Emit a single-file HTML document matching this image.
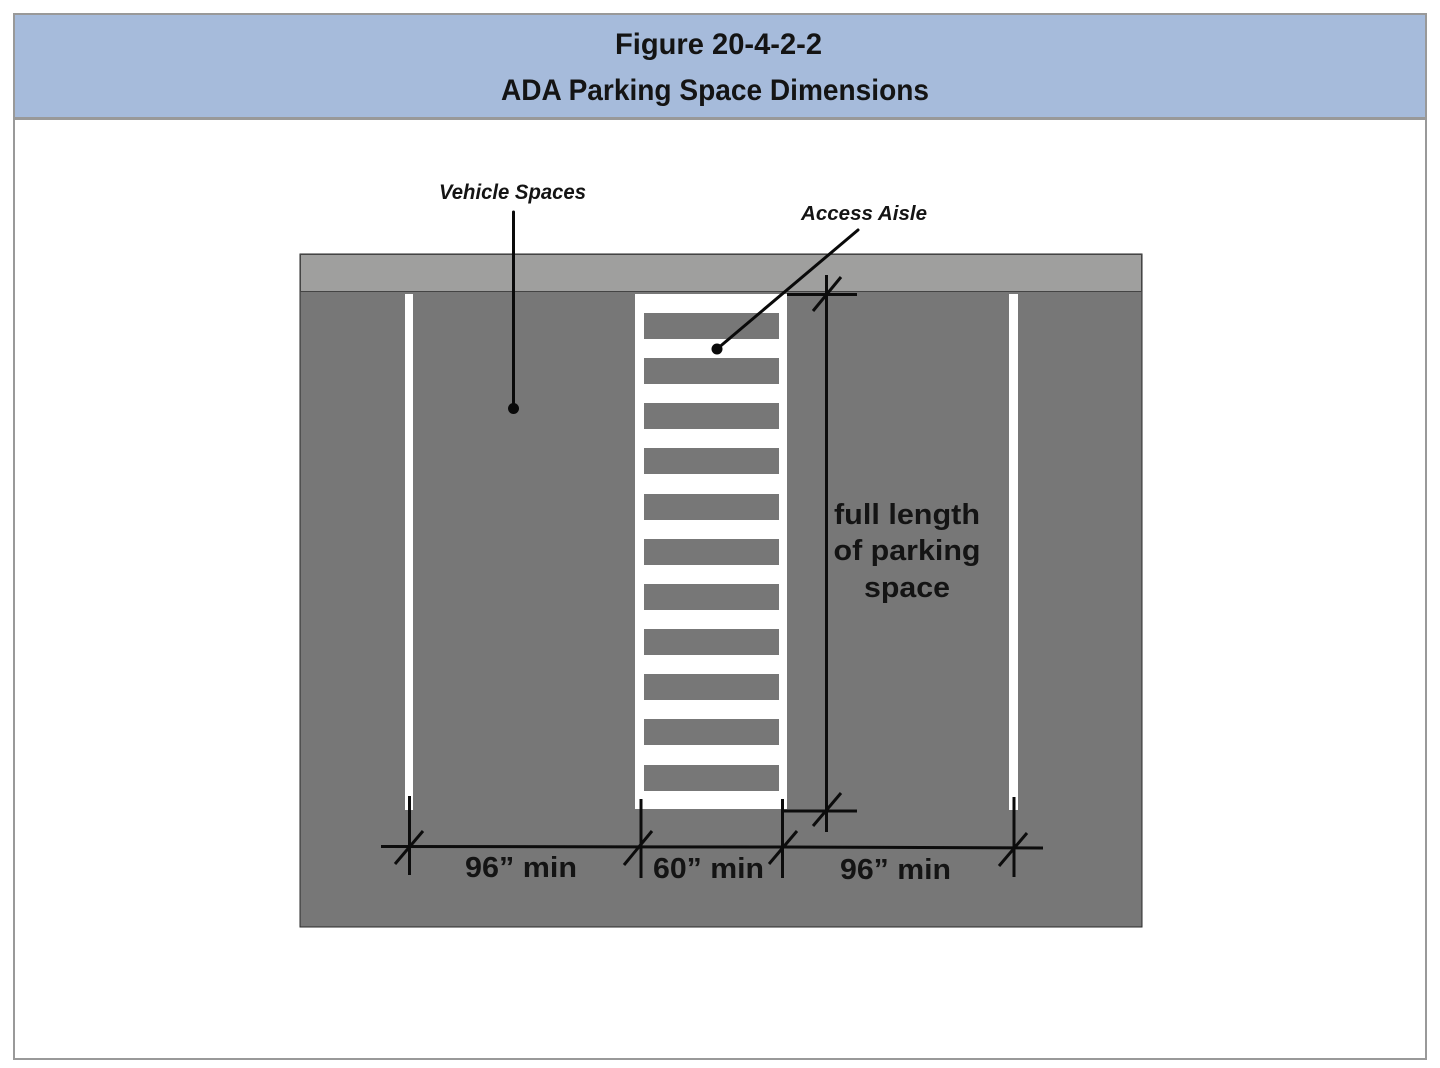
<!DOCTYPE html>
<html lang="en"><head><meta charset="utf-8"><title>Figure 20-4-2-2</title>
<style>html,body{margin:0;padding:0;background:#fff}svg{display:block}text{font-family:"Liberation Sans",sans-serif;font-weight:bold;fill:#141414}</style></head>
<body>
<svg width="1440" height="1068" viewBox="0 0 1440 1068" xmlns="http://www.w3.org/2000/svg">
<rect width="1440" height="1068" fill="#fff"/>
<!-- frame -->
<rect x="14" y="14" width="1412" height="1045" fill="#fff" stroke="#999" stroke-width="2"/>
<rect x="15" y="15" width="1410" height="102" fill="#a6bbdb"/>
<rect x="14" y="117" width="1412" height="3" fill="#999"/>
<text x="615" y="54" font-size="29.5" textLength="207" lengthAdjust="spacingAndGlyphs" fill="#0c0c0c">Figure 20-4-2-2</text>
<text x="501" y="100" font-size="29.5" textLength="428" lengthAdjust="spacingAndGlyphs" fill="#0c0c0c">ADA Parking Space Dimensions</text>
<!-- pavement -->
<rect x="300" y="254" width="842" height="673" fill="#777" stroke="#2a2a2a" stroke-width="1"/>
<rect x="300.5" y="254.5" width="841" height="37" fill="#9f9f9e" stroke="#444" stroke-width="1"/>
<!-- stripes -->
<rect x="405" y="294" width="8" height="516" fill="#fff"/>
<rect x="1009" y="294" width="9" height="516" fill="#fff"/>
<!-- aisle -->
<rect x="635" y="294" width="152" height="515" fill="#fff"/>
<g fill="#777">
<rect x="644" y="313" width="135" height="26"/>
<rect x="644" y="358" width="135" height="26"/>
<rect x="644" y="403" width="135" height="26"/>
<rect x="644" y="448" width="135" height="26"/>
<rect x="644" y="494" width="135" height="26"/>
<rect x="644" y="539" width="135" height="26"/>
<rect x="644" y="584" width="135" height="26"/>
<rect x="644" y="629" width="135" height="26"/>
<rect x="644" y="674" width="135" height="26"/>
<rect x="644" y="719" width="135" height="26"/>
<rect x="644" y="765" width="135" height="26"/>
</g>
<!-- leaders -->
<g stroke="#0a0a0a" fill="none" stroke-linecap="round">
<line x1="513.5" y1="212" x2="513.5" y2="408" stroke-width="3"/>
<line x1="858" y1="230" x2="717" y2="349" stroke-width="3"/>
</g>
<circle cx="513.5" cy="408.5" r="5.5" fill="#0a0a0a"/>
<circle cx="717" cy="349" r="5.5" fill="#0a0a0a"/>
<!-- dimensions -->
<g stroke="#0c0c0c" fill="none" stroke-width="3">
<line x1="787" y1="294.5" x2="857" y2="294.5"/>
<line x1="826.5" y1="275" x2="826.5" y2="832"/>
<line x1="813" y1="311" x2="841" y2="277"/>
<line x1="783" y1="811" x2="857" y2="811"/>
<line x1="813" y1="826" x2="841" y2="793"/>
<polyline points="381,846.5 783,847 1043,848"/>
<line x1="409.5" y1="796" x2="409.5" y2="875"/>
<line x1="395" y1="864" x2="423" y2="831"/>
<line x1="641" y1="799" x2="641" y2="878"/>
<line x1="624" y1="865" x2="652" y2="831"/>
<line x1="782.5" y1="799" x2="782.5" y2="878"/>
<line x1="769" y1="864" x2="797" y2="831"/>
<line x1="1014" y1="797" x2="1014" y2="877"/>
<line x1="999" y1="866" x2="1027" y2="833"/>
</g>
<!-- labels -->
<text x="439" y="199" font-size="21.5" textLength="147" lengthAdjust="spacingAndGlyphs" style="font-style:italic">Vehicle Spaces</text>
<text x="801" y="220" font-size="20.5" textLength="126" lengthAdjust="spacingAndGlyphs" style="font-style:italic">Access Aisle</text>
<text x="907" y="524" font-size="29" text-anchor="middle" textLength="146" lengthAdjust="spacingAndGlyphs">full length</text>
<text x="907" y="560" font-size="29" text-anchor="middle" textLength="147" lengthAdjust="spacingAndGlyphs">of parking</text>
<text x="907" y="597" font-size="29" text-anchor="middle" textLength="86" lengthAdjust="spacingAndGlyphs">space</text>
<text x="465" y="877" font-size="29" textLength="112" lengthAdjust="spacingAndGlyphs">96” min</text>
<text x="653" y="878" font-size="29" textLength="111" lengthAdjust="spacingAndGlyphs">60” min</text>
<text x="840" y="879" font-size="29" textLength="111" lengthAdjust="spacingAndGlyphs">96” min</text>
</svg>
</body></html>
